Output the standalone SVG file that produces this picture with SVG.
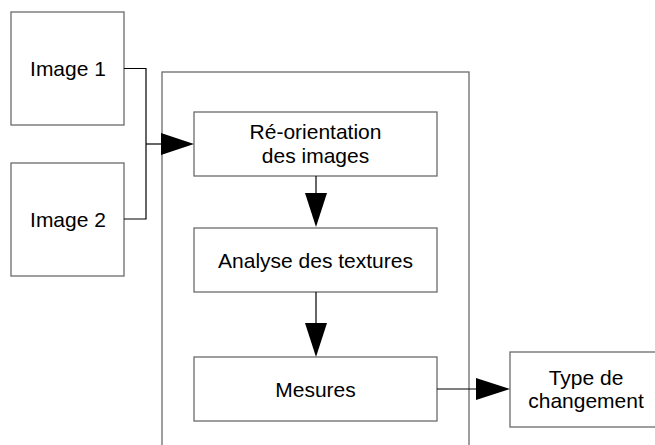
<svg xmlns="http://www.w3.org/2000/svg" width="655" height="445" viewBox="0 0 655 445">
<style>
.box{fill:#fff;stroke:#6b6b6b;stroke-width:1.3}
.frame{fill:none;stroke:#6b6b6b;stroke-width:1.3}
.t{font-family:"Liberation Sans",Arial,sans-serif;font-size:21px;fill:#000;text-anchor:middle}
.c{fill:none;stroke:#000;stroke-width:1.2}
.ah{fill:#000;stroke:none}
</style>
<rect width="655" height="445" fill="#fff"/>
<g id="container"><rect class="frame" x="162" y="72" width="307" height="390"/></g>
<g id="image1"><rect class="box" x="11" y="12" width="113" height="113"/><text class="t" x="68" y="76">Image 1</text></g>
<g id="image2"><rect class="box" x="11" y="163" width="113" height="113"/><text class="t" x="68" y="227">Image 2</text></g>
<g id="reorientation"><rect class="box" x="194" y="112" width="243" height="64"/><text class="t" x="315.5" y="139">Ré-orientation</text><text class="t" x="315.5" y="163">des images</text></g>
<g id="analyse"><rect class="box" x="194" y="228" width="243" height="64"/><text class="t" x="315.5" y="268">Analyse des textures</text></g>
<g id="mesures"><rect class="box" x="194" y="357" width="243" height="64"/><text class="t" x="315.5" y="397">Mesures</text></g>
<g id="type"><rect class="box" x="510" y="352" width="152" height="75"/><text class="t" x="586" y="385">Type de</text><text class="t" x="586" y="408">changement</text></g>
<g id="connectors">
<polyline class="c" points="124,68.5 146,68.5 146,219 124,219"/>
<line class="c" x1="146" y1="144" x2="162" y2="144"/>
<polygon class="ah" points="161,133 194,144 161,155"/>
<line class="c" x1="316" y1="176" x2="316" y2="194"/>
<polygon class="ah" points="305,193 327,193 316,227"/>
<line class="c" x1="316" y1="292" x2="316" y2="324"/>
<polygon class="ah" points="305,323 327,323 316,357"/>
<line class="c" x1="437" y1="389" x2="477" y2="389"/>
<polygon class="ah" points="476,378 510,389 476,400"/>
</g>
</svg>
